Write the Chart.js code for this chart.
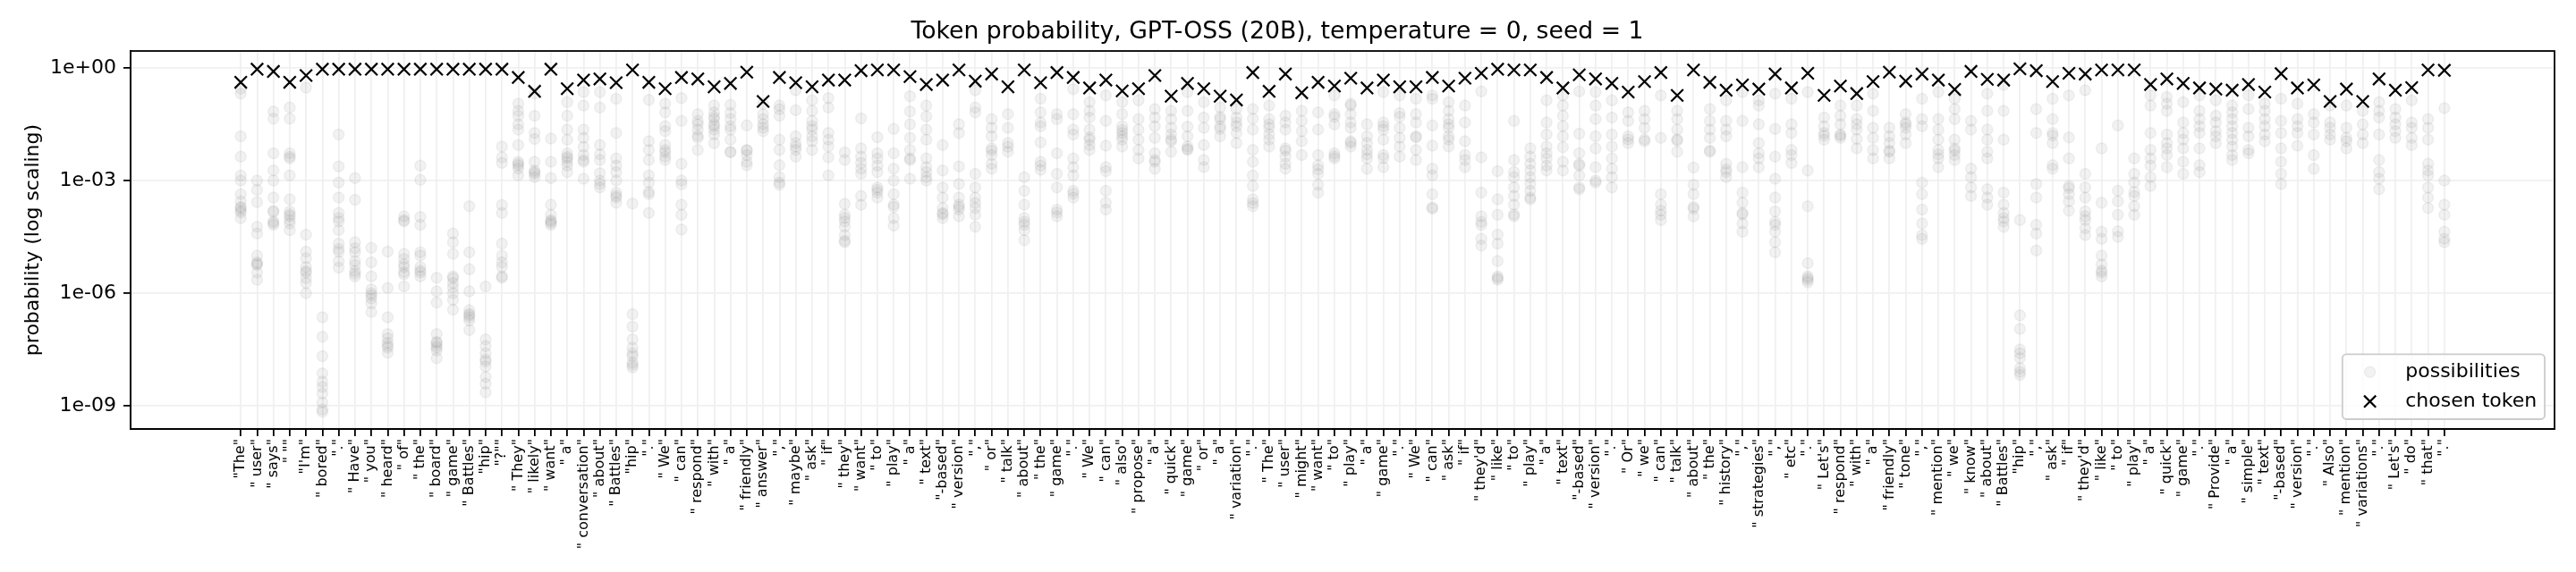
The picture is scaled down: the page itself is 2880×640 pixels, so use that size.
<!DOCTYPE html>
<html>
<head>
<meta charset="utf-8">
<script src="https://cdn.jsdelivr.net/npm/chart.js@4.4.1/dist/chart.umd.min.js"></script>
<style>
  html, body { margin: 0; padding: 0; background: #fff; }
</style>
</head>
<body>
<canvas id="chart" width="2880" height="640"></canvas>
<script>
// tokens of the generated text (tick labels are the tokens wrapped in quotes)
const tokens = [
  'The', ' user', ' says', ' "', "I'm", ' bored', '.', ' Have', ' you', ' heard',
  ' of', ' the', ' board', ' game', ' Battles', 'hip', '?"', ' They', ' likely', ' want',
  ' a', ' conversation', ' about', ' Battles', 'hip', '.', ' We', ' can', ' respond', ' with',
  ' a', ' friendly', ' answer', ',', ' maybe', ' ask', ' if', ' they', ' want', ' to',
  ' play', ' a', ' text', '-based', ' version', ',', ' or', ' talk', ' about', ' the',
  ' game', '.', ' We', ' can', ' also', ' propose', ' a', ' quick', ' game', ' or',
  ' a', ' variation', '.', ' The', ' user', ' might', ' want', ' to', ' play', ' a',
  ' game', '.', ' We', ' can', ' ask', ' if', " they'd", ' like', ' to', ' play',
  ' a', ' text', '-based', ' version', '.', ' Or', ' we', ' can', ' talk', ' about',
  ' the', ' history', ',', ' strategies', ',', ' etc', '.', " Let's", ' respond', ' with',
  ' a', ' friendly', ' tone', ',', ' mention', ' we', ' know', ' about', ' Battles', 'hip',
  ',', ' ask', ' if', " they'd", ' like', ' to', ' play', ' a', ' quick', ' game',
  '.', ' Provide', ' a', ' simple', ' text', '-based', ' version', '.', ' Also', ' mention',
  ' variations', '.', " Let's", ' do', ' that', '.'
];

// log10 of the probability of the token that was picked
const chosenLog10 = [
  -0.38, -0.03, -0.09, -0.38, -0.2, -0.03, -0.03, -0.03, -0.03, -0.03,
  -0.03, -0.03, -0.03, -0.03, -0.03, -0.03, -0.03, -0.25, -0.62, -0.03,
  -0.55, -0.32, -0.29, -0.39, -0.05, -0.38, -0.55, -0.25, -0.29, -0.5,
  -0.41, -0.11, -0.89, -0.25, -0.39, -0.5, -0.32, -0.32, -0.07, -0.05,
  -0.05, -0.23, -0.44, -0.32, -0.05, -0.35, -0.16, -0.5, -0.05, -0.39,
  -0.12, -0.25, -0.53, -0.32, -0.61, -0.55, -0.2, -0.75, -0.41, -0.55,
  -0.75, -0.85, -0.12, -0.62, -0.16, -0.66, -0.38, -0.48, -0.27, -0.53,
  -0.32, -0.5, -0.5, -0.25, -0.48, -0.27, -0.14, -0.03, -0.05, -0.05,
  -0.25, -0.53, -0.18, -0.29, -0.41, -0.64, -0.36, -0.12, -0.73, -0.05,
  -0.38, -0.59, -0.45, -0.56, -0.16, -0.53, -0.14, -0.73, -0.48, -0.68,
  -0.36, -0.11, -0.35, -0.16, -0.32, -0.57, -0.09, -0.3, -0.32, -0.02,
  -0.07, -0.36, -0.14, -0.16, -0.05, -0.05, -0.05, -0.44, -0.29, -0.41,
  -0.53, -0.56, -0.59, -0.44, -0.64, -0.15, -0.53, -0.45, -0.89, -0.56,
  -0.89, -0.29, -0.59, -0.52, -0.05, -0.06
];

// log10 of the probabilities of the other candidate tokens, one list per position
const possibleLog10 = [
  [-0.55, -0.68, -1.82, -2.36, -2.86, -3.0, -3.36, -3.55, -3.7, -3.73, -3.8, -3.85, -4.0],
  [-3.0, -3.25, -3.57, -4.23, -4.41, -5.0, -5.18, -5.22, -5.25, -5.45, -5.64],
  [-1.16, -1.35, -2.27, -2.73, -3.0, -3.45, -3.8, -3.84, -4.09, -4.13, -4.18],
  [-1.05, -1.35, -2.27, -2.36, -2.41, -2.86, -3.5, -3.82, -3.9, -3.95, -4.05, -4.14, -4.32],
  [-0.52, -4.44, -4.89, -5.07, -5.3, -5.41, -5.45, -5.6, -5.73, -6.0],
  [-6.64, -7.16, -7.68, -8.14, -8.36, -8.5, -8.68, -8.91, -9.1, -9.16],
  [-1.77, -2.62, -3.05, -3.45, -3.86, -4.0, -4.09, -4.32, -4.68, -4.82, -4.9, -5.14, -5.32],
  [-2.93, -3.51, -4.64, -4.8, -4.91, -5.14, -5.25, -5.41, -5.48, -5.55],
  [-4.79, -5.18, -5.55, -5.9, -6.0, -6.06, -6.14, -6.27, -6.5],
  [-4.89, -5.86, -6.64, -7.09, -7.2, -7.32, -7.4, -7.45, -7.59],
  [-3.95, -4.05, -4.09, -4.95, -5.09, -5.23, -5.3, -5.44, -5.5, -5.82],
  [-2.6, -2.98, -3.97, -4.18, -4.91, -5.0, -5.3, -5.4, -5.45, -5.55],
  [-5.59, -5.95, -6.25, -7.09, -7.3, -7.32, -7.4, -7.45, -7.53, -7.73],
  [-4.41, -4.64, -4.95, -5.55, -5.6, -5.73, -5.85, -6.0, -6.18, -6.44],
  [-3.68, -4.91, -5.36, -5.95, -6.45, -6.55, -6.59, -6.65, -6.73, -6.98],
  [-5.82, -7.23, -7.41, -7.6, -7.77, -7.82, -7.95, -8.23, -8.41, -8.64],
  [-2.09, -2.38, -2.53, -3.65, -3.86, -4.68, -5.0, -5.18, -5.3, -5.55, -5.59],
  [-0.95, -1.14, -1.27, -1.5, -1.64, -2.05, -2.5, -2.55, -2.6, -2.68, -2.86],
  [-0.68, -1.27, -1.73, -1.89, -2.5, -2.73, -2.78, -2.82, -2.91],
  [-1.88, -2.5, -2.93, -3.64, -3.91, -4.05, -4.09, -4.13, -4.18],
  [-0.91, -1.27, -1.64, -1.91, -2.27, -2.36, -2.41, -2.5, -2.6, -2.77],
  [-0.64, -1.0, -1.64, -1.86, -2.1, -2.32, -2.45, -2.5, -2.95],
  [-0.64, -1.05, -2.05, -2.3, -2.45, -2.8, -3.0, -3.09, -3.18],
  [-0.82, -1.73, -2.41, -2.6, -2.77, -3.0, -3.32, -3.4, -3.45, -3.59],
  [-3.61, -6.56, -6.89, -7.23, -7.45, -7.6, -7.68, -7.85, -7.91, -7.98],
  [-0.85, -1.95, -2.18, -2.45, -2.86, -3.05, -3.3, -3.36, -3.86],
  [-0.95, -1.18, -1.55, -1.68, -2.05, -2.18, -2.25, -2.36, -2.45],
  [-0.8, -1.41, -2.55, -3.0, -3.1, -3.64, -3.91, -4.3],
  [-1.23, -1.41, -1.5, -1.64, -1.8, -1.86, -2.18],
  [-1.0, -1.18, -1.3, -1.36, -1.5, -1.55, -1.64, -1.77, -2.0],
  [-0.98, -1.2, -1.36, -1.55, -1.64, -1.91, -2.23, -2.25],
  [-1.53, -2.18, -2.2, -2.32, -2.5, -2.59],
  [-0.95, -1.23, -1.36, -1.5, -1.59, -1.68],
  [-1.0, -1.1, -1.27, -1.91, -2.18, -2.59, -2.91, -3.05, -3.11],
  [-0.59, -1.12, -1.82, -2.0, -2.1, -2.18, -2.36],
  [-0.86, -1.14, -1.41, -1.55, -1.64, -1.82, -1.95, -2.18],
  [-0.8, -1.05, -1.73, -1.91, -2.09, -2.38, -2.86],
  [-2.25, -2.45, -3.62, -3.91, -4.0, -4.09, -4.23, -4.45, -4.6, -4.64],
  [-1.34, -2.14, -2.36, -2.53, -2.68, -2.82, -3.41, -3.64],
  [-1.84, -2.27, -2.41, -2.6, -2.77, -3.18, -3.25, -3.32, -3.45],
  [-1.62, -2.27, -2.68, -3.0, -3.36, -3.64, -3.7, -4.0, -4.2],
  [-0.75, -1.16, -1.5, -1.86, -2.18, -2.41, -2.45, -2.95],
  [-1.0, -1.29, -1.64, -1.91, -2.41, -2.64, -2.77, -2.91, -3.0],
  [-2.05, -2.73, -3.18, -3.45, -3.73, -3.86, -3.9, -4.0],
  [-1.5, -1.73, -2.62, -3.09, -3.45, -3.64, -3.7, -3.77, -3.95],
  [-0.59, -1.05, -1.18, -2.82, -3.18, -3.45, -3.6, -3.73, -3.91, -4.23],
  [-1.36, -1.59, -1.82, -2.14, -2.2, -2.32, -2.55, -2.68],
  [-1.23, -1.59, -2.0, -2.1, -2.23],
  [-2.91, -3.27, -3.64, -4.0, -4.1, -4.18, -4.32, -4.59],
  [-0.82, -1.18, -1.45, -1.55, -1.98, -2.5, -2.6, -2.71],
  [-1.23, -1.36, -2.27, -2.82, -3.18, -3.77, -3.85, -3.95],
  [-0.56, -1.23, -1.64, -1.77, -2.41, -2.64, -2.86, -3.27, -3.35, -3.45],
  [-0.91, -1.14, -1.32, -1.64, -1.85, -1.91, -2.05, -2.18],
  [-0.73, -1.41, -2.07, -2.64, -2.75, -3.27, -3.59, -3.77],
  [-0.91, -1.23, -1.55, -1.65, -1.73, -1.82, -1.91, -2.09],
  [-0.86, -1.36, -1.64, -1.91, -2.18, -2.41],
  [-1.09, -1.32, -1.55, -1.86, -2.27, -2.45, -2.5, -2.68],
  [-1.14, -1.36, -1.59, -1.77, -1.9, -1.95, -2.23],
  [-0.64, -1.14, -1.56, -1.82, -2.09, -2.15, -2.18],
  [-0.91, -1.32, -1.59, -2.05, -2.45, -2.64],
  [-1.05, -1.3, -1.36, -1.55, -1.62, -1.82],
  [-1.09, -1.32, -1.45, -1.55, -1.73, -2.0],
  [-1.09, -1.35, -1.64, -2.18, -2.5, -2.86, -3.14, -3.5, -3.6, -3.68],
  [-1.0, -1.36, -1.5, -1.59, -1.77, -1.91, -2.09],
  [-1.27, -1.45, -1.64, -2.14, -2.2, -2.36, -2.55, -2.68],
  [-1.14, -1.41, -1.68, -1.95, -2.32],
  [-1.18, -1.64, -2.32, -2.59, -2.7, -2.82, -3.11, -3.32],
  [-0.73, -1.23, -1.3, -1.5, -2.27, -2.35, -2.41],
  [-0.95, -1.0, -1.23, -1.45, -1.59, -1.95, -2.0, -2.09],
  [-1.5, -1.82, -2.0, -2.18, -2.3, -2.41, -2.68],
  [-0.64, -1.45, -1.55, -1.64, -1.91, -2.32, -2.4, -2.64],
  [-0.73, -1.2, -1.3, -1.59, -1.86, -2.09, -2.36],
  [-0.82, -1.23, -1.45, -1.82, -1.85, -2.18, -2.45],
  [-0.73, -0.82, -1.53, -2.07, -2.68, -2.86, -3.36, -3.71, -3.75],
  [-0.91, -1.14, -1.36, -1.5, -1.59, -1.82, -1.91, -2.09],
  [-1.0, -1.45, -1.95, -2.32, -2.45, -2.64],
  [-0.62, -2.38, -3.32, -3.95, -4.1, -4.18, -4.55, -4.73],
  [-2.75, -3.5, -3.91, -4.44, -4.68, -5.14, -5.55, -5.6, -5.64],
  [-1.41, -2.45, -2.77, -2.91, -3.18, -3.41, -3.64, -3.9, -3.95],
  [-2.14, -2.36, -2.55, -2.73, -2.91, -3.09, -3.27, -3.45, -3.5],
  [-0.86, -1.45, -1.77, -2.09, -2.27, -2.41, -2.6, -2.73],
  [-0.73, -1.0, -1.27, -1.55, -1.82, -2.11, -2.5, -2.73],
  [-0.62, -1.75, -2.27, -2.56, -2.6, -2.86, -3.18, -3.23],
  [-0.64, -1.0, -1.36, -1.82, -2.14, -2.64, -3.0, -3.05],
  [-0.86, -1.32, -1.77, -2.09, -2.41, -2.68, -2.91, -3.18],
  [-1.18, -1.41, -1.82, -1.9, -2.0],
  [-1.14, -1.36, -1.59, -1.9, -1.95],
  [-0.73, -1.86, -3.36, -3.64, -3.8, -3.91, -4.05],
  [-1.14, -1.36, -1.64, -1.9, -1.93, -2.23],
  [-2.65, -3.11, -3.36, -3.7, -3.75, -3.95],
  [-1.09, -1.41, -1.64, -1.86, -2.2, -2.23],
  [-0.86, -1.41, -1.64, -1.82, -2.55, -2.7, -2.77, -2.91],
  [-0.64, -1.41, -2.64, -3.32, -3.59, -3.86, -3.9, -4.14, -4.36],
  [-0.86, -1.0, -1.5, -2.0, -2.27, -2.41, -2.64],
  [-0.68, -1.62, -2.36, -2.95, -3.45, -3.82, -4.1, -4.18, -4.36, -4.64, -4.91],
  [-0.82, -1.5, -1.73, -2.18, -2.32, -2.53],
  [-0.64, -2.73, -3.68, -5.2, -5.55, -5.6, -5.65, -5.71],
  [-1.32, -1.55, -1.73, -1.8, -1.91],
  [-1.0, -1.27, -1.5, -1.77, -1.8, -1.86],
  [-1.0, -1.36, -1.5, -1.64, -1.89, -2.14],
  [-0.68, -1.14, -1.59, -1.86, -2.18, -2.41],
  [-1.59, -1.82, -2.0, -2.2, -2.23, -2.41],
  [-1.23, -1.45, -1.5, -1.59, -1.77, -2.0],
  [-0.82, -1.36, -1.55, -3.05, -3.36, -3.77, -4.14, -4.45, -4.55],
  [-0.64, -1.36, -1.64, -1.91, -2.18, -2.3, -2.41, -2.64],
  [-0.82, -1.09, -1.36, -1.91, -2.14, -2.2, -2.32, -2.45],
  [-1.41, -1.64, -2.68, -2.91, -3.18, -3.41],
  [-0.68, -1.14, -1.64, -1.91, -2.23, -2.41, -3.23, -3.45, -3.64],
  [-0.45, -1.14, -1.91, -3.32, -3.64, -3.86, -4.0, -4.09, -4.23],
  [-4.05, -6.59, -6.95, -7.5, -7.6, -7.73, -8.0, -8.1, -8.18],
  [-1.09, -1.73, -3.09, -3.45, -4.18, -4.41, -4.86],
  [-0.82, -1.36, -1.73, -1.8, -2.0, -2.59, -2.68],
  [-0.73, -1.85, -2.41, -3.14, -3.2, -3.36, -3.55, -3.8],
  [-0.59, -2.82, -3.18, -3.45, -3.82, -3.95, -4.05, -4.27, -4.45],
  [-2.14, -3.59, -4.36, -4.55, -5.0, -5.23, -5.4, -5.45, -5.55],
  [-1.53, -3.27, -3.55, -3.91, -4.35, -4.5],
  [-2.41, -2.82, -3.05, -3.3, -3.41, -3.68, -3.91],
  [-0.73, -1.0, -1.73, -2.18, -2.41, -2.6, -2.91, -3.14],
  [-0.77, -0.95, -1.14, -1.77, -2.0, -2.14, -2.32, -2.64],
  [-0.91, -1.45, -1.73, -1.91, -2.14, -2.5, -2.82],
  [-0.73, -1.14, -1.36, -1.55, -1.73, -2.14, -2.59, -2.77],
  [-0.86, -1.27, -1.45, -1.68, -1.82, -2.0],
  [-1.0, -1.18, -1.36, -1.55, -1.73, -1.91, -2.09, -2.32, -2.45],
  [-0.73, -1.09, -1.59, -1.82, -2.18, -2.27],
  [-0.95, -1.14, -1.36, -1.55, -1.77, -1.95],
  [-0.82, -1.41, -1.73, -2.14, -2.5, -2.82, -3.09],
  [-0.95, -1.36, -1.55, -1.73, -2.07],
  [-1.23, -1.45, -1.77, -2.32, -2.68],
  [-1.0, -1.45, -1.59, -1.77, -1.91],
  [-1.0, -1.59, -1.86, -1.95, -2.14],
  [-1.14, -1.5, -1.77, -2.0],
  [-0.91, -1.14, -1.32, -1.77, -2.45, -2.77, -2.95, -3.23],
  [-1.09, -1.32, -1.5, -1.68, -1.86],
  [-0.86, -1.45, -1.59, -1.86, -2.05],
  [-1.36, -1.59, -1.91, -2.55, -2.73, -2.86, -3.18, -3.45, -3.73],
  [-1.07, -3.0, -3.64, -3.91, -4.36, -4.55, -4.64]
];

const yTickValues = [1e-9, 1e-6, 1e-3, 1];
const yTickLabels = ['1e-09', '1e-06', '1e-03', '1e+00'];

const FONT = "'DejaVu Sans', 'Noto Sans', sans-serif";
const LINE = 1.8;

const possiblePoints = [];
possibleLog10.forEach((vals, i) => {
  vals.forEach(v => possiblePoints.push({ x: i, y: Math.pow(10, v) }));
});
const chosenPoints = chosenLog10.map((v, i) => ({ x: i, y: Math.pow(10, v) }));

// full black box around the plot area, like matplotlib spines
const framePlugin = {
  id: 'frame',
  afterDatasetsDraw(chart) {
    const { ctx, chartArea: a } = chart;
    ctx.save();
    ctx.strokeStyle = '#000';
    ctx.lineWidth = LINE;
    ctx.strokeRect(a.left, a.top, a.right - a.left, a.bottom - a.top);
    ctx.restore();
  }
};

// legend box in the lower right corner inside the axes
const boxLegendPlugin = {
  id: 'boxLegend',
  afterDraw(chart) {
    const { ctx, chartArea: a } = chart;
    const fs = 22;
    const labels = ['possibilities', 'chosen token'];
    ctx.save();
    ctx.font = fs + 'px ' + FONT;
    const textW = Math.max(...labels.map(l => ctx.measureText(l).width));
    const pad = 0.4 * fs, handle = 2 * fs, gap = 0.8 * fs, rowSp = 0.5 * fs;
    const w = pad + handle + gap + textW + pad;
    const h = 2 * pad + 2 * fs + rowSp;
    const x0 = a.right - 0.5 * fs - w;
    const y0 = a.bottom - 0.5 * fs - h;
    const r = 0.2 * fs;

    ctx.beginPath();
    ctx.moveTo(x0 + r, y0);
    ctx.arcTo(x0 + w, y0, x0 + w, y0 + h, r);
    ctx.arcTo(x0 + w, y0 + h, x0, y0 + h, r);
    ctx.arcTo(x0, y0 + h, x0, y0, r);
    ctx.arcTo(x0, y0, x0 + w, y0, r);
    ctx.closePath();
    ctx.fillStyle = 'rgba(255,255,255,0.8)';
    ctx.fill();
    ctx.strokeStyle = '#cccccc';
    ctx.lineWidth = LINE;
    ctx.stroke();

    const mx = x0 + pad + handle / 2;
    const tx = x0 + pad + handle + gap;
    const y1 = y0 + pad + fs / 2;
    const y2 = y1 + fs + rowSp;

    ctx.beginPath();
    ctx.arc(mx, y1, 6, 0, Math.PI * 2);
    ctx.fillStyle = 'rgba(128,128,128,0.1)';
    ctx.fill();
    ctx.strokeStyle = 'rgba(128,128,128,0.1)';
    ctx.lineWidth = 1.5;
    ctx.stroke();

    const hx = 6.6;
    ctx.beginPath();
    ctx.moveTo(mx - hx, y2 - hx);
    ctx.lineTo(mx + hx, y2 + hx);
    ctx.moveTo(mx + hx, y2 - hx);
    ctx.lineTo(mx - hx, y2 + hx);
    ctx.strokeStyle = '#000';
    ctx.lineWidth = 2.2;
    ctx.stroke();

    ctx.fillStyle = '#000';
    ctx.textAlign = 'left';
    ctx.textBaseline = 'middle';
    ctx.fillText(labels[0], tx, y1);
    ctx.fillText(labels[1], tx, y2);
    ctx.restore();
  }
};

const gridOpts = {
  color: '#f0f0f0',
  lineWidth: LINE,
  drawTicks: true,
  tickLength: 8,
  tickColor: '#000',
  tickWidth: LINE
};

new Chart(document.getElementById('chart').getContext('2d'), {
  type: 'scatter',
  data: {
    datasets: [{
      label: 'possibilities',
      data: possiblePoints,
      pointStyle: 'circle',
      pointRadius: 6,
      pointBackgroundColor: 'rgba(128,128,128,0.1)',
      pointBorderColor: 'rgba(128,128,128,0.1)',
      pointBorderWidth: 1.5,
      order: 2
    }, {
      label: 'chosen token',
      data: chosenPoints,
      pointStyle: 'crossRot',
      pointRadius: 9.6,
      pointBorderColor: '#000',
      pointBackgroundColor: '#000',
      pointBorderWidth: 2.2,
      order: 1
    }]
  },
  options: {
    responsive: false,
    animation: false,
    devicePixelRatio: 1,
    events: [],
    layout: { padding: { left: 0, right: 24, top: 0, bottom: 0 } },
    plugins: {
      legend: { display: false },
      tooltip: { enabled: false },
      title: {
        display: true,
        text: 'Token probability, GPT-OSS (20B), temperature = 0, seed = 1',
        color: '#000',
        font: { family: FONT, size: 26.7, weight: 'normal' },
        padding: { top: 20, bottom: 5 }
      }
    },
    scales: {
      x: {
        type: 'linear',
        min: -6.75,
        max: 141.75,
        afterBuildTicks: scale => {
          scale.ticks = tokens.map((t, i) => ({ value: i }));
        },
        afterFit: scale => { scale.height = 160; },
        ticks: {
          autoSkip: false,
          minRotation: 90,
          maxRotation: 90,
          color: '#000',
          padding: 3,
          font: { family: FONT, size: 16 },
          callback: value => '"' + tokens[value] + '"'
        },
        grid: gridOpts,
        border: { display: true, color: '#000', width: LINE }
      },
      y: {
        type: 'logarithmic',
        min: Math.pow(10, -9.62),
        max: Math.pow(10, 0.455),
        afterBuildTicks: scale => {
          scale.ticks = yTickValues.map(v => ({ value: v }));
        },
        afterFit: scale => { scale.width = 146; },
        ticks: {
          color: '#000',
          padding: 8,
          font: { family: FONT, size: 22 },
          callback: value => yTickLabels[yTickValues.indexOf(value)]
        },
        grid: gridOpts,
        border: { display: true, color: '#000', width: LINE },
        title: {
          display: true,
          text: 'probability (log scaling)',
          color: '#000',
          font: { family: FONT, size: 22 },
          padding: { top: 24, bottom: 0 }
        }
      }
    }
  },
  plugins: [framePlugin, boxLegendPlugin]
});
</script>
</body>
</html>
